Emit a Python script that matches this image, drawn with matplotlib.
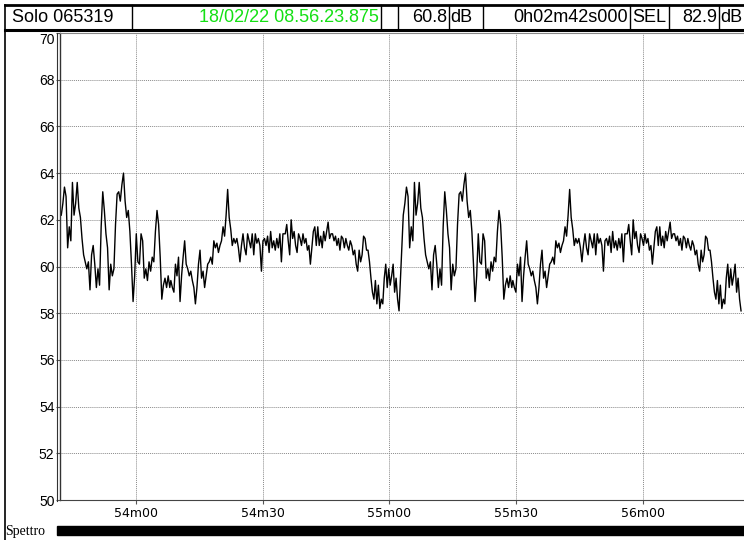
import numpy as np
import matplotlib.pyplot as plt
from matplotlib.lines import Line2D
from matplotlib.patches import Rectangle

# level readings (dB), first 81 s of the record; the record repeats once
seg_a = [62.2, 62.7, 63.4, 63.0, 60.8, 61.7, 61.1, 63.6, 62.2, 62.7,
         63.6, 62.5, 62.1, 61.2, 60.5, 60.2, 59.9, 60.2, 59.0, 60.5,
         60.9, 60.1, 59.1, 59.9, 59.2, 61.7, 63.2, 62.4, 61.4, 60.8,
         59.0, 60.1, 59.6, 59.9, 61.8, 63.1, 63.2, 62.8, 63.5, 64.0,
         62.8, 62.1, 62.4, 61.5, 60.1, 58.5, 59.6, 61.4, 60.2, 60.1,
         61.4, 61.1, 59.5, 59.9, 59.4, 60.2, 59.8, 60.4, 60.2, 61.5,
         62.4, 61.8, 60.4, 58.6, 59.2, 59.5, 59.1, 59.6, 59.1]
seg_b = [59.4, 59.1, 58.9, 60.1, 59.6, 60.4, 58.5, 59.6, 60.4, 61.1,
         60.1, 59.9, 59.6, 59.8, 59.4, 59.1, 58.4, 59.1, 60.1, 60.7,
         59.5, 59.8, 59.1, 59.6, 60.1, 60.2, 60.4, 60.1, 61.1, 60.8,
         61.0, 60.6, 60.9, 61.1, 61.7, 61.3, 62.2, 63.3, 62.1, 61.6,
         60.9, 61.2, 61.0, 61.2, 60.8, 60.2, 60.9, 61.4, 60.8, 60.5,
         61.4, 61.1, 60.8, 61.4, 60.5, 61.4, 61.0, 61.2, 60.9, 59.8,
         61.1, 61.2, 60.9, 61.3, 60.6, 61.5, 60.8, 61.1, 60.7, 61.2,
         60.8, 61.4, 60.2, 61.4]
seg_c = [61.4, 61.8, 61.1, 60.5, 62.0, 61.2, 61.5, 60.9, 60.6, 61.4,
         61.2, 60.9, 61.4, 61.0, 61.2, 60.7, 60.9, 60.1, 60.8, 61.5,
         61.7, 60.9, 61.7, 60.9, 61.3, 60.8, 61.5, 61.1, 61.5, 61.9,
         61.2, 61.4, 61.4, 61.1, 61.3, 60.9, 61.2, 60.7, 61.3, 61.2,
         60.8, 61.2, 60.9, 60.7, 61.1, 60.9, 60.5, 60.7, 60.1, 59.8,
         60.7, 60.2, 60.5, 61.3, 61.2, 60.7, 60.7, 60.2, 59.5, 58.9,
         58.6, 59.4, 58.4, 59.2, 58.2, 58.6, 58.4, 59.5, 60.1, 59.1,
         59.9, 59.2, 59.6, 60.1, 58.9, 59.5, 58.6, 58.1]
# time span (s) of each segment
span_a = (3222.3, 3248.0)
span_b = (3248.25, 3274.8)
span_c = (3275.35, 3302.3)
repeat_offset = 81.0

t_start, t_end = 3222.0, 3384.0
xticks = [3240, 3270, 3300, 3330, 3360]
xlabels = ['54m00', '54m30', '55m00', '55m30', '56m00']
yticks = [50, 52, 54, 56, 58, 60, 62, 64, 66, 68, 70]

header_left = 'Solo 065319'
header_date = '18/02/22 08.56.23.875'
header_leq = '60.8'
header_dur = '0h02m42s000'
header_sel = '82.9'

t_half = np.concatenate([np.linspace(*span_a, len(seg_a)),
                         np.linspace(*span_b, len(seg_b)),
                         np.linspace(*span_c, len(seg_c))])
v_half = np.array(seg_a + seg_b + seg_c)
t = np.concatenate([t_half, t_half + repeat_offset])
v = np.concatenate([v_half, v_half])

W, H = 744, 540
fig = plt.figure(figsize=(W / 100, H / 100), dpi=100)
fig.patch.set_facecolor('white')

def fx(x):
    return x / W

def fy(y):
    return 1 - y / H

ax = fig.add_axes([fx(60), fy(500), fx(684), 467 / H])
ax.plot(t, v, color='black', lw=1.0)
ax.set_xlim(t_start, t_end)
ax.set_ylim(50, 70)
ax.set_yticks(yticks)
ax.set_xticks(xticks)
ax.set_xticklabels(xlabels, family=['Liberation Sans Narrow', 'DejaVu Sans'], fontsize=9)
ylabs = ax.get_yticklabels()
for lab in ylabs:
    lab.set_family(['Liberation Sans', 'DejaVu Sans'])
    lab.set_fontsize(10)
ylabs[-1].set_va('top')   # top label sits just inside the frame
ax.tick_params(axis='both', direction='out', length=3, width=0.8, color='#555555')
ax.tick_params(axis='y', pad=1)
ax.tick_params(axis='x', pad=2)
ax.grid(True, color='#8a8a8a', linestyle=(0, (1, 1)), lw=0.7)
ax.spines['right'].set_visible(False)
ax.spines['top'].set_color('#888888')
ax.spines['bottom'].set_color('#444444')
ax.spines['left'].set_color('#333333')
ax.spines['left'].set_linewidth(1.0)

# second line of the raised left frame
fig.add_artist(Line2D([fx(57), fx(57)], [fy(33), fy(501)], color='#333333', lw=0.8))

# outer frame and header
fig.add_artist(Line2D([fx(5), fx(744)], [fy(5), fy(5)], color='black', lw=2))
fig.add_artist(Line2D([fx(5), fx(744)], [fy(30), fy(30)], color='black', lw=2.2))
fig.add_artist(Line2D([fx(5), fx(5)], [fy(5), fy(540)], color='black', lw=1.2))
for xv in [132, 381, 398, 449, 483, 630, 669, 719]:
    fig.add_artist(Line2D([fx(xv), fx(xv)], [fy(5), fy(30)], color='black', lw=1))

hfont = ['Liberation Sans', 'DejaVu Sans']
hsize = 13
ty = fy(18)
fig.text(fx(12), ty, header_left, ha='left', va='center', fontsize=hsize, family=hfont)
fig.text(fx(379), ty, header_date, ha='right', va='center', fontsize=hsize, family=hfont, color='#14e014')
fig.text(fx(447), ty, header_leq, ha='right', va='center', fontsize=hsize, family=hfont)
fig.text(fx(450), ty, 'dB', ha='left', va='center', fontsize=hsize, family=hfont)
fig.text(fx(628), ty, header_dur, ha='right', va='center', fontsize=hsize, family=hfont)
fig.text(fx(632), ty, 'SEL', ha='left', va='center', fontsize=hsize, family=hfont)
fig.text(fx(717), ty, header_sel, ha='right', va='center', fontsize=hsize, family=hfont)
fig.text(fx(720), ty, 'dB', ha='left', va='center', fontsize=hsize, family=hfont)

# spectrum bar at the bottom
fig.add_artist(Rectangle((fx(57), fy(535)), fx(744 - 57), 9 / H, color='black'))
fig.text(fx(5), fy(531), 'Spettro', ha='left', va='center', fontsize=10,
         family=['Liberation Serif', 'DejaVu Serif'])

fig.savefig('out.png', dpi=100)
